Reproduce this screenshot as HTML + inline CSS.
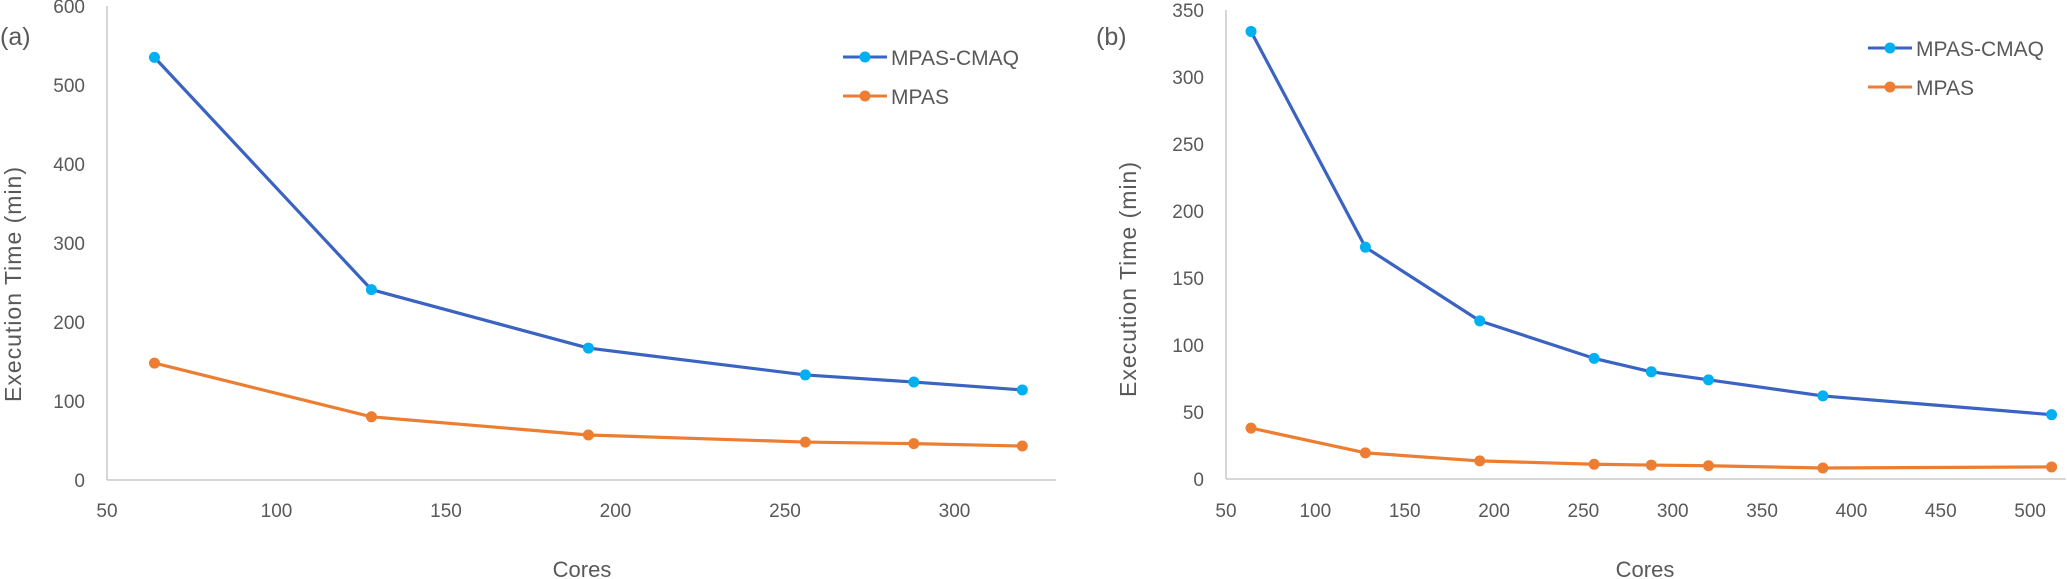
<!DOCTYPE html>
<html><head><meta charset="utf-8"><style>
html,body{margin:0;padding:0;background:#fff}
svg{display:block;font-family:"Liberation Sans",sans-serif}
.tk{fill:#595959;font-size:19px}
.tt{fill:#595959;font-size:22px}
.yt{fill:#595959;font-size:23px;letter-spacing:1px}
</style></head><body>
<svg id="c" width="2067" height="579" viewBox="0 0 2067 579"></svg>
<script>
const coresA = [64,128,192,256,288,320];
const cmaqA = [535,241,167,133,124,114];
const mpasA = [148,80,57,48,46,43];
const coresB = [64,128,192,256,288,320,384,512];
const cmaqB = [334,173,118,90,80,74,62,48];
const mpasB = [38,19.5,13.5,11,10.4,9.9,8.2,9];
const xTicksA = [50,100,150,200,250,300];
const yTicksA = [0,100,200,300,400,500,600];
const xTicksB = [50,100,150,200,250,300,350,400,450,500];
const yTicksB = [0,50,100,150,200,250,300,350];

const NS="http://www.w3.org/2000/svg";
const svg=document.getElementById('c');
function mk(t,a,txt){const e=document.createElementNS(NS,t);for(const k in a)e.setAttribute(k,a[k]);if(txt!==undefined)e.textContent=txt;svg.appendChild(e);return e;}

function chart(p){
  const sx=v=>p.x0+(v-p.xmin)*p.kx, sy=v=>p.y0-v*p.ky;
  let e;
  e=mk('line',{x1:p.x0,y1:p.y0,x2:p.x0,y2:sy(p.ymax),stroke:'#bfbfbf','stroke-width':1.3});
  
  e=mk('line',{x1:p.x0,y1:p.y0,x2:sx(p.xmax),y2:p.y0,stroke:'#bfbfbf','stroke-width':1.3});
  
  p.yt.forEach(v=>{e=mk('text',{x:p.x0-22,y:sy(v)+7,'text-anchor':'end',class:'tk'},String(v));
    });
  p.xt.forEach(v=>{e=mk('text',{x:sx(v),y:517,'text-anchor':'middle',class:'tk'},String(v));
    });
  e=mk('text',{x:p.xtx,y:577,'text-anchor':'middle',class:'tt'},'Cores');
  
  e=mk('text',{x:0,y:0,'text-anchor':'middle',class:'yt',transform:`translate(${p.ytx},${p.yty}) rotate(-90)`},'Execution Time (min)');
  
  e=mk('text',{x:p.lx,y:45,class:'tt',style:'font-size:25px'},p.label);
  
  [[p.s1,'#3a63c2','#00b0f0','cmaq'],[p.s2,'#ed7d31','#ed7d31','mpas']].forEach(([s,lc,mc,n])=>{
    e=mk('polyline',{points:p.cores.map((c,i)=>sx(c)+','+sy(s[i])).join(' '),fill:'none',stroke:lc,'stroke-width':3.2,'stroke-linejoin':'round'});
    
    p.cores.forEach((c,i)=>{e=mk('circle',{cx:sx(c),cy:sy(s[i]),r:5.5,fill:mc});
      });
  });
  [['MPAS-CMAQ','#3a63c2','#00b0f0',p.ly],['MPAS','#ed7d31','#ed7d31',p.ly+39]].forEach(([t,lc,mc,y])=>{
    e=mk('line',{x1:p.lgx,y1:y,x2:p.lgx+44,y2:y,stroke:lc,'stroke-width':3});
    
    e=mk('circle',{cx:p.lgx+22,cy:y,r:5.5,fill:mc});
    
    e=mk('text',{x:p.lgx+48,y:y+8,class:'tk',style:'font-size:21px'},t);
    
  });
}
chart({id:'a',x0:107,y0:480,xmin:50,xmax:330,kx:3.39,ky:0.79,ymax:600,xt:xTicksA,yt:yTicksA,cores:coresA,s1:cmaqA,s2:mpasA,
  xtx:582,ytx:21,yty:284,lx:0,label:'(a)',lgx:843,ly:57});
chart({id:'b',x0:1226,y0:479,xmin:50,xmax:520,kx:1.787,ky:1.34,ymax:350,xt:xTicksB,yt:yTicksB,cores:coresB,s1:cmaqB,s2:mpasB,
  xtx:1645,ytx:1136,yty:279,lx:1096,label:'(b)',lgx:1868,ly:48});
</script>
</body></html>
